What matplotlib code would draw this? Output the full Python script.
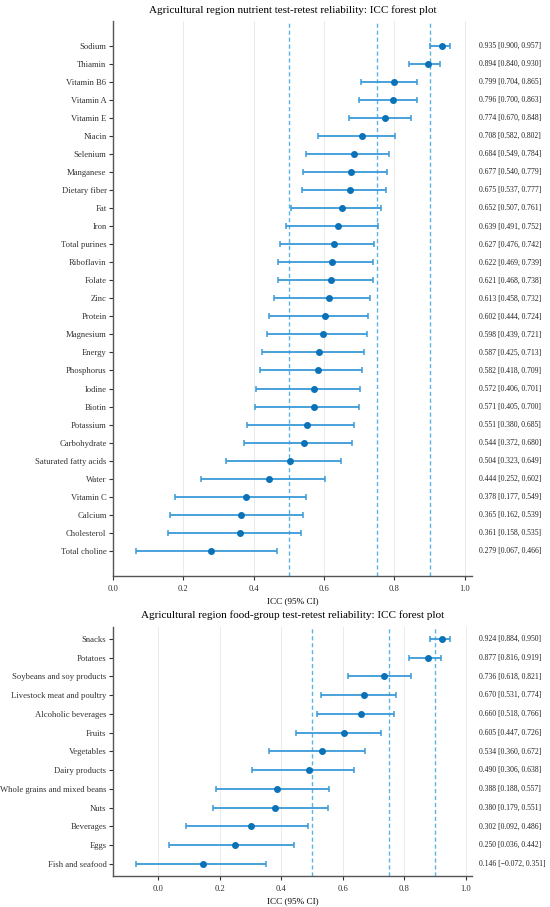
import matplotlib.pyplot as plt

plt.rcParams['font.family'] = ['Liberation Serif', 'DejaVu Serif']

# nutrients (top panel)
nutrients = ["Sodium", "Thiamin", "Vitamin B6", "Vitamin A", "Vitamin E", "Niacin",
             "Selenium", "Manganese", "Dietary fiber", "Fat", "Iron", "Total purines",
             "Riboflavin", "Folate", "Zinc", "Protein", "Magnesium", "Energy",
             "Phosphorus", "Iodine", "Biotin", "Potassium", "Carbohydrate",
             "Saturated fatty acids", "Water", "Vitamin C", "Calcium", "Cholesterol",
             "Total choline"]
nut_icc = [0.935, 0.894, 0.799, 0.796, 0.774, 0.708, 0.684, 0.677, 0.675, 0.652,
           0.639, 0.627, 0.622, 0.621, 0.613, 0.602, 0.598, 0.587, 0.582, 0.572,
           0.571, 0.551, 0.544, 0.504, 0.444, 0.378, 0.365, 0.361, 0.279]
nut_lo = [0.900, 0.840, 0.704, 0.700, 0.670, 0.582, 0.549, 0.540, 0.537, 0.507,
          0.491, 0.476, 0.469, 0.468, 0.458, 0.444, 0.439, 0.425, 0.418, 0.406,
          0.405, 0.380, 0.372, 0.323, 0.252, 0.177, 0.162, 0.158, 0.067]
nut_hi = [0.957, 0.930, 0.865, 0.863, 0.848, 0.802, 0.784, 0.779, 0.777, 0.761,
          0.752, 0.742, 0.739, 0.738, 0.732, 0.724, 0.721, 0.713, 0.709, 0.701,
          0.700, 0.685, 0.680, 0.649, 0.602, 0.549, 0.539, 0.535, 0.466]

# food groups (bottom panel)
foods = ["Snacks", "Potatoes", "Soybeans and soy products", "Livestock meat and poultry",
         "Alcoholic beverages", "Fruits", "Vegetables", "Dairy products",
         "Whole grains and mixed beans", "Nuts", "Beverages", "Eggs", "Fish and seafood"]
food_icc = [0.924, 0.877, 0.736, 0.670, 0.660, 0.605, 0.534, 0.490, 0.388, 0.380,
            0.302, 0.250, 0.146]
food_lo = [0.884, 0.816, 0.618, 0.531, 0.518, 0.447, 0.360, 0.306, 0.188, 0.179,
           0.092, 0.036, -0.072]
food_hi = [0.950, 0.919, 0.821, 0.774, 0.766, 0.726, 0.672, 0.638, 0.557, 0.551,
           0.486, 0.442, 0.351]

thresholds = [0.5, 0.75, 0.9]


def fmt(v):
    return f"{v:.3f}".replace("-", "\u2212")


def forest(ax, names, icc, lo, hi, title, xlim, pad):
    y = list(range(len(names)))
    err = [[c - l for c, l in zip(icc, lo)], [h - c for c, h in zip(icc, hi)]]
    ax.errorbar(icc, y, xerr=err, fmt='none', ecolor='#3a9ad9', elinewidth=1.3,
                capsize=2.5, capthick=1.1, zorder=3)
    ax.plot(icc, y, 'o', color='#0b72b8', markersize=4, zorder=4)
    for t in thresholds:
        ax.axvline(t, color='#5bb4e5', linestyle=(0, (3, 2)), linewidth=1.0, zorder=2)
    for yi, c, l, h in zip(y, icc, lo, hi):
        ax.text(1.02, yi, f"{fmt(c)} [{fmt(l)}, {fmt(h)}]", transform=ax.get_yaxis_transform(),
                va='center', ha='left', fontsize=5.5, color='#222222')
    ax.set_yticks(y)
    ax.set_yticklabels(names, fontsize=6.2)
    ax.set_ylim(len(names) - 1 + pad, -pad)
    ax.set_xlim(*xlim)
    ax.set_xticks([0.0, 0.2, 0.4, 0.6, 0.8, 1.0])
    ax.set_xticklabels(["0.0", "0.2", "0.4", "0.6", "0.8", "1.0"], fontsize=6.2)
    ax.grid(axis='x', color='#e6e6e6', linewidth=0.6, zorder=0)
    ax.set_axisbelow(True)
    for s in ['top', 'right']:
        ax.spines[s].set_visible(False)
    for s in ['left', 'bottom']:
        ax.spines[s].set_color('#555555')
        ax.spines[s].set_linewidth(1.0)
    ax.tick_params(colors='#333333', length=3, width=0.8)
    ax.tick_params(axis='y', pad=1.5)
    ax.set_xlabel("ICC (95% CI)", fontsize=6.6, labelpad=3)
    ax.set_title(title, fontsize=8, pad=6)


fig = plt.figure(figsize=(5.5, 9.07), dpi=100)
ax1 = fig.add_axes([0.205, 0.365, 0.653, 0.612])
ax2 = fig.add_axes([0.205, 0.034, 0.653, 0.275])

forest(ax1, nutrients, nut_icc, nut_lo, nut_hi,
       "Agricultural region nutrient test-retest reliability: ICC forest plot", (0.0, 1.02), 1.4)
forest(ax2, foods, food_icc, food_lo, food_hi,
       "Agricultural region food-group test-retest reliability: ICC forest plot", (-0.147, 1.02), 0.65)

plt.savefig("out.png", dpi=100)
